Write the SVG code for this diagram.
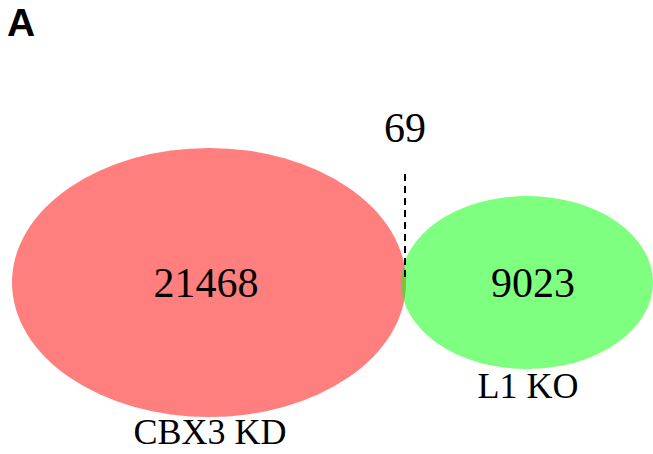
<svg xmlns="http://www.w3.org/2000/svg" width="653" height="454" viewBox="0 0 653 454">
<style>
.num{font-family:"Liberation Serif","Times New Roman",serif;font-size:42px;fill:#000;text-anchor:middle}
.lab{font-family:"Liberation Serif","Times New Roman",serif;font-size:36px;fill:#000;text-anchor:middle}
</style>
<rect width="653" height="454" fill="#fff"/>
<text x="7" y="36" font-family="Liberation Sans,Arial,sans-serif" font-weight="bold" font-size="39" fill="#000">A</text>
<g id="cbx3">
<ellipse cx="209" cy="282.5" rx="197" ry="134.5" fill="#ff0000" fill-opacity="0.5"/>
<text class="num" x="206" y="297">21468</text>
<text class="lab" x="210" y="444">CBX3 KD</text>
</g>
<g id="l1ko">
<ellipse cx="527" cy="282.5" rx="126" ry="86.5" fill="#00ff00" fill-opacity="0.5"/>
<text class="num" x="533" y="297">9023</text>
<text class="lab" x="528" y="398">L1 KO</text>
</g>
<g id="connectors">
<line x1="405" y1="174" x2="405" y2="282" stroke="#000" stroke-width="2" stroke-dasharray="7,5"/>
</g>
<g id="overlap">
<text class="num" x="405" y="142">69</text>
</g>
</svg>
